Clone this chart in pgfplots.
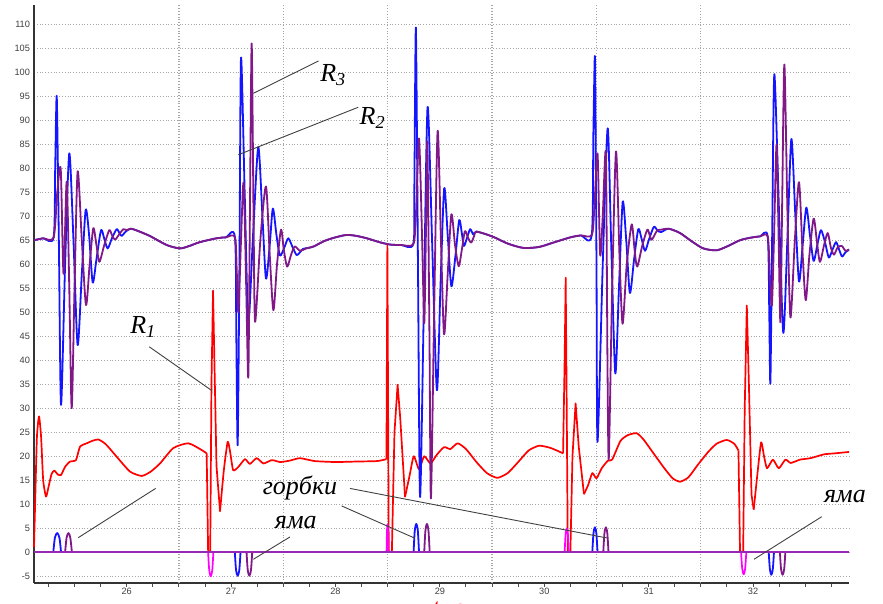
\documentclass[border=0pt]{standalone}
\usepackage{fontspec}
\setmainfont{Liberation Serif}
\newfontfamily\tickfont{Liberation Sans}
\usepackage{pgfplots}
\pgfplotsset{compat=1.18}
\definecolor{rtwo}{RGB}{20,20,255}
\definecolor{rthree}{RGB}{128,24,136}
\definecolor{zeroline}{RGB}{150,40,180}
\definecolor{mag}{RGB}{255,0,255}
\newcommand{\lbl}{\fontsize{13}{15}\selectfont\itshape}

\begin{document}
\begin{tikzpicture}
\begin{axis}[
    at={(0pt,0pt)}, anchor=south west,
    scale only axis,
    width=407.5pt, height=289pt,
    xmin=25.112, xmax=32.919,
    ymin=-6.4, ymax=114,
    axis x line*=bottom, axis y line*=left,
    axis line style={line width=1.1pt, black!80},
    xtick={25,...,33}, minor x tick num=3,
    ytick={-5,0,...,110},
    ymajorgrids,
    major grid style={densely dotted, black!35, line width=0.6pt},
    extra x ticks={26.5,27.5,28.5,29.5,30.5,31.5},
    extra x tick labels={},
    extra x tick style={grid=major},
    tick align=outside,
    major tick length=2pt, minor tick length=2pt,
    x tick style={black!70, line width=0.5pt},
    ytick style={draw=none},
    /pgf/number format/assume math mode=true,
    tick label style={font=\tickfont\fontsize{4.6}{5}\selectfont, text=black!75},
    xticklabel style={yshift=3pt},
    yticklabel style={xshift=3.5pt},
    clip=false,
    every axis plot/.append style={line join=round},
    r1/.style={red, line width=0.85pt},
    r1s/.style={red, line width=0.85pt, smooth, tension=0.35},
]
% R1: smooth stretches and sharp spikes
\addplot[r1s] coordinates {
(25.112,1) (25.125,12) (25.14,24) (25.16,28.3) (25.18,24) (25.20,15) (25.227,11.6) (25.25,13.5)
(25.28,16.3) (25.307,17.0) (25.34,16.2) (25.371,16.1) (25.41,17.8) (25.457,18.9) (25.514,19.2)
(25.553,22.0) (25.617,22.7) (25.67,23.2) (25.728,23.5) (25.8,22.5) (25.904,19.9) (26.032,16.8)
(26.144,15.9) (26.23,16.8) (26.319,18.5) (26.446,21.7) (26.59,22.7) (26.718,21.3) (26.766,20.6)
};
\addplot[r1] coordinates {
(26.766,20.6) (26.78,0.1) (26.80,0.1) (26.812,35) (26.827,54.5) (26.84,40) (26.86,18) (26.894,8.5)
};
\addplot[r1s] coordinates {
(26.894,8.5) (26.93,17) (26.967,23.0) (26.99,21) (27.02,17.1) (27.07,17.8) (27.133,19.4) (27.18,18.4)
(27.245,19.6) (27.31,18.5) (27.39,19.2) (27.47,18.8) (27.564,19.1) (27.66,19.6) (27.8,19.0)
(28.0,18.8) (28.2,18.9) (28.4,19.0) (28.488,19.4)
};
\addplot[r1] coordinates {
(28.488,19.4) (28.497,64.2) (28.51,0.1) (28.54,0.1) (28.565,25) (28.595,34.9) (28.62,28) (28.666,11.5)
};
\addplot[r1s] coordinates {
(28.666,11.5) (28.71,16) (28.75,20) (28.80,17.3) (28.85,20) (28.91,18.5) (28.97,20.3) (29.04,21.9)
(29.1,21.5) (29.17,22.7) (29.25,21.5) (29.35,18.8) (29.45,16.5) (29.55,15.5) (29.65,16.5)
(29.75,18.8) (29.85,21.2) (29.95,22.2) (30.05,21.8) (30.12,21.2) (30.18,20.6)
};
\addplot[r1] coordinates {
(30.18,20.6) (30.195,40) (30.205,57.2) (30.215,30) (30.225,0.1) (30.25,0.1) (30.27,20) (30.30,31)
(30.33,22) (30.38,12.1)
};
\addplot[r1s] coordinates {
(30.38,12.1) (30.42,14) (30.46,16.5) (30.50,15.4) (30.55,17.5) (30.61,19.1) (30.65,19.3)
(30.73,23.2) (30.8,24.4) (30.885,24.8) (30.95,23.5) (31.05,20.5) (31.15,17.5) (31.23,15.4)
(31.30,14.7) (31.38,15.6) (31.47,18.2) (31.57,20.9) (31.65,22.6) (31.747,23.4) (31.82,22.6)
(31.86,21.2)
};
\addplot[r1] coordinates {
(31.86,21.2) (31.875,0.1) (31.905,0.1) (31.92,30) (31.94,51.4) (31.96,35) (31.985,12) (32.006,8.9)
};
\addplot[r1s] coordinates {
(32.006,8.9) (32.04,16) (32.077,22.9) (32.105,20) (32.134,17.5) (32.19,19.3) (32.246,17.5)
(32.31,19.3) (32.36,18.6) (32.45,19.3) (32.55,19.6) (32.68,20.4) (32.78,20.6) (32.919,20.9)
};
% magenta humps and dips
\addplot[mag, line width=0.85pt, smooth] coordinates {(26.78,0) (26.79,-3.6) (26.805,-5) (26.82,-3.6) (26.83,0)};
\addplot[mag, line width=0.85pt, smooth] coordinates {(28.489,0) (28.493,4.2) (28.498,5.8) (28.503,4.2) (28.507,0)};
\addplot[mag, line width=0.85pt, smooth] coordinates {(30.195,0) (30.204,3.7) (30.215,5.0) (30.226,3.7) (30.235,0)};
\addplot[mag, line width=0.85pt, smooth] coordinates {(31.885,0) (31.896,-3.4) (31.91,-4.6) (31.924,-3.4) (31.935,0)};
% R2
\addplot[rtwo, line width=0.9pt, smooth, tension=0.45] coordinates {
(25.112,65.0) (25.2,65.4) (25.30,65.6)
(25.315,80) (25.33,94.9) (25.35,65) (25.371,30.7) (25.41,60) (25.45,83.1) (25.49,65) (25.53,43.2)
(25.57,58) (25.607,71.3) (25.64,66) (25.674,56.2) (25.71,61) (25.754,67.1) (25.785,65.3)
(25.818,63.3) (25.86,65.5) (25.904,67.3) (25.93,66.5) (25.952,65.9) (25.99,66.8) (26.038,67.4)
(26.1,67.0) (26.22,65.9) (26.383,64.0) (26.51,63.3) (26.6,63.8) (26.70,64.6) (26.86,65.4)
(26.95,65.6) (27.037,65.6)
(27.05,45) (27.063,22.4) (27.08,60) (27.095,103) (27.13,75) (27.165,48.2) (27.21,66) (27.26,84.4)
(27.30,70) (27.334,57.0) (27.37,64) (27.40,71.6) (27.435,66) (27.468,61.8) (27.51,63.5)
(27.548,65.4) (27.59,63.5) (27.628,61.9) (27.66,62.5) (27.69,63.2) (27.74,63.4) (27.79,63.7)
(27.9,64.9) (28.0,65.6) (28.107,66.1) (28.2,65.9) (28.3,65.4) (28.42,64.6) (28.522,64.1)
(28.63,64.0) (28.745,64.2)
(28.755,75) (28.77,109.3) (28.79,60) (28.81,11.5) (28.845,50) (28.882,92.7) (28.925,65)
(28.971,33.8) (29.005,55) (29.041,75.8) (29.075,66) (29.11,55.4) (29.15,62) (29.185,69.2)
(29.21,66.5) (29.23,63.8) (29.26,65.5) (29.29,67.3) (29.32,66.2) (29.35,66.8)
(29.5,65.8) (29.65,64.3) (29.8,63.4) (29.95,63.6) (30.1,64.6) (30.25,65.6) (30.35,66.0) (30.455,66.1)
(30.47,87) (30.486,102.9) (30.50,60) (30.51,23.0) (30.56,60) (30.607,88.3) (30.64,65) (30.68,37.3)
(30.715,55) (30.751,73.0) (30.785,65) (30.82,54.0) (30.86,61) (30.90,67.3) (30.93,65.5)
(30.965,62.8) (31.005,65.3) (31.05,67.8) (31.085,67.0) (31.12,66.7) (31.19,67.4)
(31.30,66.5) (31.41,64.8) (31.523,63.3) (31.65,62.9) (31.76,63.8) (31.875,65.0) (31.97,65.5)
(32.066,65.8) (32.14,65.8)
(32.155,50) (32.166,35.4) (32.185,70) (32.204,99.6) (32.25,70) (32.29,45.7) (32.33,66) (32.367,86.1)
(32.405,70) (32.44,56.4) (32.475,64) (32.51,71.8) (32.545,66) (32.58,60.7) (32.615,64) (32.65,67.1)
(32.69,64.5) (32.725,61.4) (32.76,63) (32.795,64.6) (32.825,63) (32.853,61.6) (32.885,62.5)
(32.919,63.0)
};
% R3
\addplot[rthree, line width=0.9pt, smooth, tension=0.45] coordinates {
(25.112,65.0) (25.2,65.4) (25.30,65.6)
(25.335,75) (25.368,79.8) (25.395,58) (25.425,77.2) (25.45,55) (25.473,30.0) (25.50,55) (25.53,79.3)
(25.57,65) (25.61,51.5) (25.645,60) (25.68,67.5) (25.71,64) (25.738,60.5) (25.785,64) (25.833,67.1)
(25.86,66) (25.888,65.1) (25.93,66.3) (25.967,67.3) (26.0,67.1) (26.038,67.4)
(26.1,67.0) (26.22,65.9) (26.383,64.0) (26.51,63.3) (26.6,63.8) (26.70,64.6) (26.86,65.4)
(26.95,65.6) (27.037,65.6)
(27.055,58) (27.07,50) (27.095,65) (27.12,77) (27.145,55) (27.165,36.5) (27.18,70) (27.197,106)
(27.215,70) (27.23,48) (27.28,65) (27.334,76.2) (27.37,62) (27.405,50.4) (27.44,60) (27.478,67.2)
(27.505,63) (27.537,59.5) (27.575,62) (27.61,63.7) (27.66,62.8) (27.72,63.3) (27.79,63.7)
(27.9,64.9) (28.0,65.6) (28.107,66.1) (28.2,65.9) (28.3,65.4) (28.42,64.6) (28.522,64.1)
(28.63,64.0) (28.745,64.2)
(28.77,70) (28.80,86.2) (28.83,65) (28.85,47.7) (28.865,65) (28.88,85.4) (28.90,45) (28.914,11.2)
(28.945,50) (28.978,87.7) (29.01,65) (29.04,45.4) (29.075,58) (29.11,70.4) (29.145,64) (29.18,59.6)
(29.21,63) (29.24,66.9) (29.27,65.5) (29.30,64.5) (29.33,66) (29.35,66.8)
(29.5,65.8) (29.65,64.3) (29.8,63.4) (29.95,63.6) (30.1,64.6) (30.25,65.6) (30.35,66.0) (30.455,66.1)
(30.48,72) (30.51,83.1) (30.535,62) (30.56,70) (30.59,83.0) (30.605,40) (30.618,19.5) (30.65,55)
(30.687,83.5) (30.72,62) (30.75,47.6) (30.79,60) (30.837,68.3) (30.865,63) (30.89,59.5) (30.94,64)
(30.987,67.2) (31.01,66) (31.03,65.1) (31.08,67) (31.12,67.2) (31.19,67.4)
(31.30,66.5) (31.41,64.8) (31.523,63.3) (31.65,62.9) (31.76,63.8) (31.875,65.0) (31.97,65.5)
(32.066,65.8) (32.14,65.8)
(32.16,58) (32.18,51.4) (32.2,65) (32.225,85) (32.245,65) (32.262,48) (32.28,75) (32.30,101.6)
(32.33,70) (32.358,48.9) (32.40,65) (32.44,77.1) (32.475,62) (32.505,52.5) (32.54,62) (32.58,69.5)
(32.61,65) (32.64,60.5) (32.68,64) (32.715,66.5) (32.745,63.5) (32.775,62) (32.81,63.5) (32.85,63.8)
(32.885,62.8) (32.919,63.1)
};
% humps (blue)
\addplot[rtwo, line width=0.9pt, smooth] coordinates {(25.297,0) (25.312,3.0) (25.334,4.0) (25.356,3.0) (25.371,0)};
\addplot[rtwo, line width=0.9pt, smooth] coordinates {(27.036,0) (27.047,-3.6) (27.063,-4.9) (27.079,-3.6) (27.09,0)};
\addplot[rtwo, line width=0.9pt, smooth] coordinates {(28.748,0) (28.759,4.4) (28.774,5.9) (28.789,4.4) (28.80,0)};
\addplot[rtwo, line width=0.9pt, smooth] coordinates {(30.46,0) (30.471,3.9) (30.485,5.2) (30.499,3.9) (30.51,0)};
\addplot[rtwo, line width=0.9pt, smooth] coordinates {(32.15,0) (32.161,-3.5) (32.175,-4.7) (32.189,-3.5) (32.20,0)};
% humps (purple)
\addplot[rthree, line width=0.9pt, smooth] coordinates {(25.41,0) (25.424,3.0) (25.442,4.0) (25.46,3.0) (25.475,0)};
\addplot[rthree, line width=0.9pt, smooth] coordinates {(27.148,0) (27.159,-3.6) (27.175,-4.9) (27.191,-3.6) (27.202,0)};
\addplot[rthree, line width=0.9pt, smooth] coordinates {(28.85,0) (28.861,4.4) (28.876,5.9) (28.891,4.4) (28.902,0)};
\addplot[rthree, line width=0.9pt, smooth] coordinates {(30.565,0) (30.576,3.9) (30.59,5.2) (30.604,3.9) (30.615,0)};
\addplot[rthree, line width=0.9pt, smooth] coordinates {(32.257,0) (32.268,-3.5) (32.283,-4.7) (32.298,-3.5) (32.309,0)};
% zero line
\addplot[zeroline, line width=0.9pt] coordinates {(25.112,0) (32.919,0)};

% annotations
\draw[black!75, line width=0.45pt] (axis cs:27.838,102.35) -- (axis cs:27.213,95.6);
\draw[black!75, line width=0.45pt] (axis cs:28.218,92.7) -- (axis cs:27.069,82.8);
\draw[black!75, line width=0.45pt] (axis cs:26.216,42.8) -- (axis cs:26.814,33.7);
\draw[black!75, line width=0.45pt] (axis cs:26.277,13.3) -- (axis cs:25.536,3.04);
\draw[black!75, line width=0.45pt] (axis cs:28.139,13.3) -- (axis cs:30.60,2.98);
\draw[black!75, line width=0.45pt] (axis cs:28.059,9.65) -- (axis cs:28.761,2.92);
\draw[black!75, line width=0.45pt] (axis cs:27.564,3.19) -- (axis cs:27.213,-1.46);
\draw[black!75, line width=0.45pt] (axis cs:32.657,7.4) -- (axis cs:32.009,-1.46);
\node[font=\lbl, inner sep=1pt] at (axis cs:27.979,99.4) {R\textsubscript{3}};
\node[font=\lbl, inner sep=1pt] at (axis cs:28.356,90.4) {R\textsubscript{2}};
\node[font=\lbl, inner sep=1pt] at (axis cs:26.159,47.0) {R\textsubscript{1}};
\node[font=\lbl, inner sep=1pt] at (axis cs:27.66,13.3) {горбки};
\node[font=\lbl, inner sep=1pt] at (axis cs:27.62,6.2) {яма};
\node[font=\lbl, inner sep=1pt] at (axis cs:32.88,11.6) {яма};
\node[font=\lbl, text=red, anchor=north, inner sep=0pt] at (axis cs:29.08,-10.3) {t, c};
\end{axis}
\pgfresetboundingbox
\useasboundingbox (-17pt,-10.5pt) rectangle (424.5pt,291.5pt);
\end{tikzpicture}
\end{document}
